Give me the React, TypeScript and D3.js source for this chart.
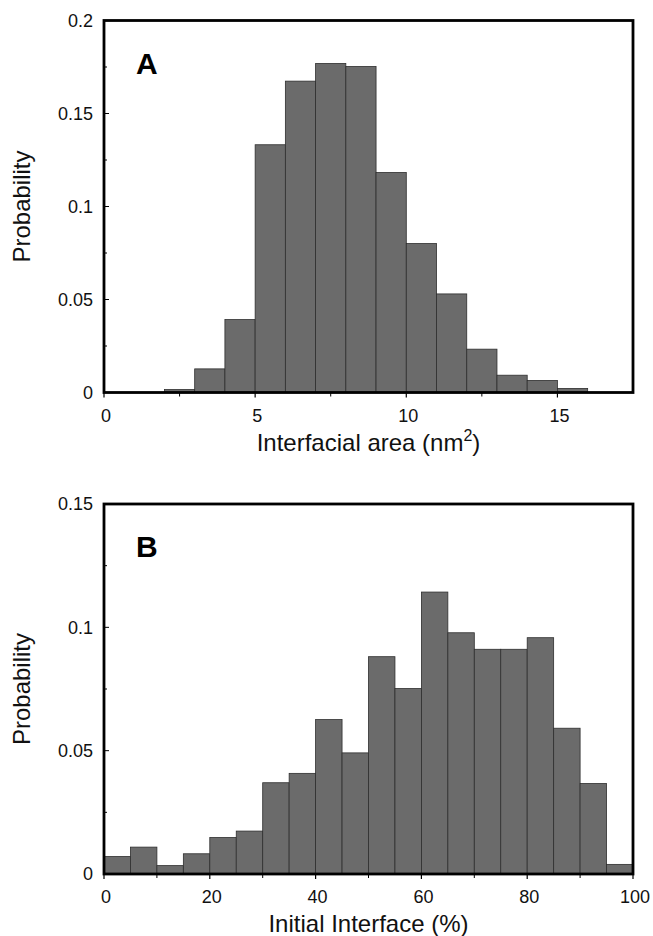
import React from "react";
import * as d3 from "d3";

const areaBinStarts = [2, 3, 4, 5, 6, 7, 8, 9, 10, 11, 12, 13, 14, 15];
const areaProb = [0.0016, 0.0127, 0.0392, 0.1332, 0.1674, 0.1769, 0.1753, 0.1183, 0.0801, 0.053, 0.0233, 0.0093, 0.0065, 0.0022];
const areaXTicks = [0, 5, 10, 15];
const areaXMinor = [2.5, 7.5, 12.5];
const areaYTicks = [0, 0.05, 0.1, 0.15, 0.2];
const areaYMinor = [0.025, 0.075, 0.125, 0.175];

const ifaceBinStarts = [0, 5, 10, 15, 20, 25, 30, 35, 40, 45, 50, 55, 60, 65, 70, 75, 80, 85, 90, 95];
const ifaceProb = [0.0071, 0.0109, 0.0034, 0.0082, 0.0148, 0.0174, 0.037, 0.0408, 0.0626, 0.0491, 0.0881, 0.0752, 0.1143, 0.0978, 0.0911, 0.0911, 0.0958, 0.0591, 0.0367, 0.0039];
const ifaceXTicks = [0, 20, 40, 60, 80, 100];
const ifaceXMinor = [10, 30, 50, 70, 90];
const ifaceYTicks = [0, 0.05, 0.1, 0.15];
const ifaceYMinor = [0.025, 0.075, 0.125];

const FONT = "'Liberation Sans', Arial, Helvetica, sans-serif";

type PanelProps = {
  letter: string;
  top: number;
  bottom: number;
  xDomain: [number, number];
  yDomain: [number, number];
  binStarts: number[];
  binWidth: number;
  values: number[];
  xTicks: number[];
  xMinor: number[];
  yTicks: number[];
  yMinor: number[];
  xLabel: React.ReactNode;
};

function Panel(p: PanelProps) {
  const left = 104;
  const right = 633;
  const x = d3.scaleLinear().domain(p.xDomain).range([left, right]);
  const y = d3.scaleLinear().domain(p.yDomain).range([p.bottom, p.top]);
  const fmt = (v: number) => (v === 0 ? "0" : String(v));
  return (
    <g>
      {p.binStarts.map((s, i) => (
        <rect
          key={i}
          x={x(s)}
          y={y(p.values[i])}
          width={x(s + p.binWidth) - x(s)}
          height={y(0) - y(p.values[i])}
          fill="#6b6b6b"
          stroke="#2e2e2e"
          strokeWidth={0.8}
        />
      ))}
      {p.yTicks.map((t) => (
        <g key={"yt" + t}>
          <line x1={left} x2={left + 5} y1={y(t)} y2={y(t)} stroke="#000" strokeWidth={1} />
          <text x={93} y={y(t)} dy="0.35em" textAnchor="end" fontSize={18} fontFamily={FONT} fill="#111">
            {fmt(t)}
          </text>
        </g>
      ))}
      {p.yMinor.map((t) => (
        <line key={"ym" + t} x1={left} x2={left + 3} y1={y(t)} y2={y(t)} stroke="#000" strokeWidth={1} />
      ))}
      {p.xTicks.map((t) => (
        <g key={"xt" + t}>
          <line x1={x(t)} x2={x(t)} y1={p.bottom} y2={p.bottom + 5} stroke="#000" strokeWidth={1.2} />
          <text x={x(t) + 2} y={p.bottom + 23} dy="0.35em" textAnchor="middle" fontSize={18} fontFamily={FONT} fill="#111">
            {fmt(t)}
          </text>
        </g>
      ))}
      {p.xMinor.map((t) => (
        <line key={"xm" + t} x1={x(t)} x2={x(t)} y1={p.bottom} y2={p.bottom + 4} stroke="#000" strokeWidth={1} />
      ))}
      <rect x={left} y={p.top} width={right - left} height={p.bottom - p.top} fill="none" stroke="#000" strokeWidth={2.8} />
      <text x={136} y={p.top + 53} fontSize={30} fontWeight="bold" fontFamily={FONT} fill="#000">
        {p.letter}
      </text>
      <text
        transform={`translate(${30},${(p.top + p.bottom) / 2}) rotate(-90)`}
        textAnchor="middle"
        fontSize={24}
        fontFamily={FONT}
        fill="#111"
      >
        Probability
      </text>
      <text x={(left + right) / 2} y={p.bottom + 58} textAnchor="middle" fontSize={24} fontFamily={FONT} fill="#111">
        {p.xLabel}
      </text>
    </g>
  );
}

export default function App() {
  return (
    <svg
      width={653}
      height={936}
      viewBox="0 0 653 936"
      style={{ position: "absolute", left: 0, top: 0, background: "#fff", display: "block" }}
    >
      <rect width={653} height={936} fill="#fff" />
      <Panel
        letter="A"
        top={20.5}
        bottom={392.5}
        xDomain={[0, 17.5]}
        yDomain={[0, 0.2]}
        binStarts={areaBinStarts}
        binWidth={1}
        values={areaProb}
        xTicks={areaXTicks}
        xMinor={areaXMinor}
        yTicks={areaYTicks}
        yMinor={areaYMinor}
        xLabel={
          <>
            Interfacial area (nm
            <tspan dy={-10} fontSize={16}>2</tspan>
            <tspan dy={10}>)</tspan>
          </>
        }
      />
      <Panel
        letter="B"
        top={504}
        bottom={874}
        xDomain={[0, 100]}
        yDomain={[0, 0.15]}
        binStarts={ifaceBinStarts}
        binWidth={5}
        values={ifaceProb}
        xTicks={ifaceXTicks}
        xMinor={ifaceXMinor}
        yTicks={ifaceYTicks}
        yMinor={ifaceYMinor}
        xLabel="Initial Interface (%)"
      />
    </svg>
  );
}
